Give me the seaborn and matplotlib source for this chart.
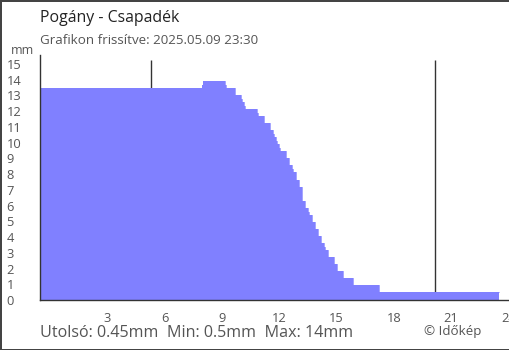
import matplotlib
matplotlib.use("Agg")
import matplotlib.pyplot as plt
import seaborn as sns
import pandas as pd

# ---- data ----
step_start = [-0.52, 7.96, 8.01, 9.16, 9.21, 9.69, 10.0, 10.05, 10.16, 10.21,
              10.84, 10.89, 11.20, 11.52, 11.68, 11.73, 11.83, 11.88, 11.99, 12.04,
              12.36, 12.51, 12.67, 12.72, 12.88, 13.04, 13.19, 13.35, 13.51, 13.56,
              13.72, 13.87, 14.03, 14.19, 14.35, 14.40, 14.55, 14.87, 15.03, 15.34,
              15.86, 17.23, 23.51]
precip_mm = [13.47, 13.67, 13.92, 13.67, 13.47, 13.03, 12.78, 12.58, 12.33, 12.14,
             11.89, 11.70, 11.25, 10.81, 10.55, 10.36, 10.11, 9.92, 9.66, 9.47,
             9.03, 8.58, 8.33, 8.14, 7.63, 7.18, 6.29, 5.85, 5.59, 5.40,
             4.96, 4.51, 4.07, 3.62, 3.37, 3.18, 2.73, 2.29, 1.84, 1.40,
             0.95, 0.51, 0.51]
marker_lines = [5.3, 20.15]
x_ticks = [3, 6, 9, 12, 15, 18, 21, 24]
y_ticks = list(range(0, 16))

title = "Pogány - Csapadék"
subtitle = "Grafikon frissítve: 2025.05.09 23:30"
footer = "Utolsó: 0.45mm  Min: 0.5mm  Max: 14mm"
credit = "© Időkép"

# ---- style ----
sns.set_style("white")
plt.rcParams["font.family"] = ["Open Sans", "DejaVu Sans"]

fill_color = "#8080ff"
text_gray = "#555555"
axis_color = "#333333"

df = pd.DataFrame({"hour": step_start, "mm": precip_mm})

fig = plt.figure(figsize=(5.1, 3.5), dpi=100)
fig.patch.set_facecolor("white")
fig.patch.set_edgecolor("#444444")
fig.patch.set_linewidth(2)

ax = fig.add_axes([40 / 510, 50 / 350, 470 / 510, 245 / 350])

for xv in marker_lines:
    ax.vlines(xv, 0, 15.25, color=axis_color, linewidth=1, zorder=1)

sns.lineplot(data=df, x="hour", y="mm", drawstyle="steps-post",
             color=fill_color, linewidth=0.5, ax=ax, zorder=2)
ax.fill_between(df["hour"], df["mm"], 0, step="post", color=fill_color,
                linewidth=0, zorder=2)

ax.set_xlim(-0.52, 24.08)
ax.set_ylim(0, 15.57)

ax.set_xticks([-0.52] + x_ticks)
ax.set_xticklabels([""] + [str(t) for t in x_ticks])
ax.set_yticks(y_ticks)
ax.set_yticklabels([str(t) for t in y_ticks])

ax.tick_params(axis="x", direction="out", length=5, width=1, color=axis_color,
               labelsize=9.3, labelcolor=text_gray, pad=3.5)
ax.tick_params(axis="y", direction="inout", length=12, width=1, color=axis_color,
               labelsize=9.3, labelcolor=text_gray, pad=18)
for lab in ax.get_yticklabels():
    lab.set_horizontalalignment("left")

ax.set_xlabel("")
ax.set_ylabel("")
for s in ["top", "right"]:
    ax.spines[s].set_visible(False)
for s in ["left", "bottom"]:
    ax.spines[s].set_color(axis_color)
    ax.spines[s].set_linewidth(1)
    ax.spines[s].set_zorder(4)
ax.set_facecolor("white")

fig.text(40 / 510, 1 - 18 / 350, title, fontsize=11.4, color="#222222", va="center", ha="left")
fig.text(40 / 510, 1 - 41 / 350, subtitle, fontsize=9.6, color=text_gray, va="center", ha="left")
fig.text(23 / 510, 1 - 50 / 350, "mm", fontsize=9, color=text_gray, va="center", ha="center")
fig.text(40 / 510, 1 - 333 / 350, footer, fontsize=11.6, color=text_gray, va="center", ha="left")
fig.text(453 / 510, 1 - 331 / 350, credit, fontsize=9.6, color=text_gray, va="center", ha="center")

fig.savefig("out.png", dpi=100, facecolor=fig.get_facecolor(), edgecolor=fig.get_edgecolor())
